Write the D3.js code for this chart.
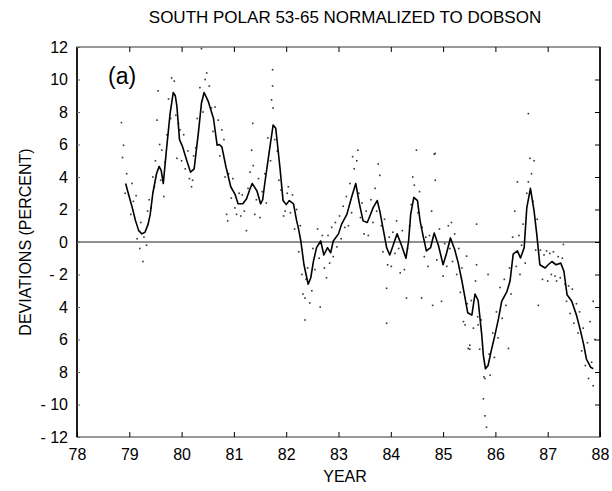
<!DOCTYPE html>
<html>
<head>
<meta charset="utf-8">
<script src="https://cdn.jsdelivr.net/npm/d3@7"></script>
<style>
  html, body { margin: 0; padding: 0; background: #fff; }
  svg { display: block; font-family: "Liberation Sans", Arial, Helvetica, sans-serif; }
</style>
</head>
<body>
<svg id="chart" width="612" height="491"></svg>
<script>
// ---------------- DATA ----------------
const titleText = "SOUTH POLAR 53-65 NORMALIZED TO DOBSON";
const xLabelText = "YEAR";
const yLabelText = "DEVIATIONS (PERCENT)";
const panelText = "(a)";

const xTicks = [78, 79, 80, 81, 82, 83, 84, 85, 86, 87, 88];
const yTicks = [12, 10, 8, 6, 4, 2, 0, -2, -4, -6, -8, -10, -12];
const yTickLabels = ["12", "10", "8", "6", "4", "2", "0", "- 2", "4", "6", "8", "- 10", "- 12"];

// smoothed curve: [year, deviation %]
const smoothLine = [
  [78.93,3.6],[78.98,3.0],[79.05,2.2],[79.12,1.3],[79.18,0.7],[79.24,0.5],[79.30,0.6],[79.36,1.1],
  [79.40,1.7],[79.45,3.0],[79.52,4.2],[79.57,4.65],[79.61,4.4],[79.65,3.6],[79.71,5.65],[79.78,7.9],
  [79.84,9.2],[79.88,9.0],[79.91,8.35],[79.96,6.3],[80.02,5.85],[80.10,5.0],[80.17,4.3],[80.24,4.5],
  [80.32,6.7],[80.38,8.55],[80.43,9.2],[80.51,8.65],[80.61,7.6],[80.68,5.95],[80.72,6.0],[80.77,5.85],
  [80.85,4.6],[80.94,3.4],[81.02,2.95],[81.08,2.35],[81.17,2.35],[81.24,2.65],[81.30,3.2],[81.35,3.6],
  [81.44,3.15],[81.51,2.35],[81.55,2.6],[81.59,3.6],[81.68,5.65],[81.75,7.2],[81.80,7.0],[81.88,4.6],
  [81.94,2.55],[82.00,2.3],[82.06,2.55],[82.14,2.35],[82.20,1.3],[82.23,0.9],[82.28,0.06],[82.34,-1.4],
  [82.42,-2.6],[82.47,-2.2],[82.52,-1.2],[82.58,-0.35],[82.66,0.06],[82.72,-0.8],[82.79,-0.35],[82.85,-0.66],
  [82.90,0.06],[83.00,0.5],[83.06,1.1],[83.16,1.7],[83.25,2.75],[83.33,3.6],[83.40,2.35],[83.47,1.3],
  [83.55,1.2],[83.60,1.6],[83.66,2.1],[83.74,2.55],[83.79,1.9],[83.86,0.7],[83.92,-0.35],[83.98,-0.8],
  [84.05,-0.15],[84.12,0.5],[84.21,-0.25],[84.29,-1.0],[84.34,0.06],[84.38,1.7],[84.44,2.75],[84.51,2.55],
  [84.56,1.3],[84.61,0.5],[84.68,-0.55],[84.76,-0.35],[84.83,0.55],[84.91,-0.2],[85.00,-1.4],[85.07,-0.65],
  [85.14,0.25],[85.22,-0.45],[85.29,-1.3],[85.36,-2.4],[85.42,-3.45],[85.47,-4.35],[85.55,-4.5],[85.61,-3.2],
  [85.67,-3.6],[85.74,-5.75],[85.77,-7.0],[85.81,-7.8],[85.86,-7.6],[85.93,-6.55],[85.99,-5.75],[86.06,-4.7],
  [86.12,-3.65],[86.22,-3.05],[86.28,-2.4],[86.34,-0.75],[86.42,-0.55],[86.48,-0.98],[86.55,-0.35],[86.60,2.1],
  [86.67,3.3],[86.74,1.9],[86.79,0.5],[86.85,-1.4],[86.95,-1.6],[87.01,-1.4],[87.08,-1.2],[87.16,-1.4],
  [87.25,-1.3],[87.31,-1.8],[87.37,-3.25],[87.46,-3.65],[87.55,-4.5],[87.63,-5.5],[87.69,-6.35],[87.74,-7.2],
  [87.82,-7.7],[87.87,-7.8]
];

// individual daily deviations: [year, deviation %]
const dailyPoints = [
  [78.85,7.35],[78.87,5.2],[78.89,5.95],[78.92,3.0],[78.95,4.2],[79.03,1.7],[79.05,3.6],[79.08,2.5],
  [79.13,2.85],[79.15,0.2],[79.20,-0.4],[79.22,1.2],[79.26,-1.2],[79.28,0.3],[79.33,-0.2],[79.35,1.9],
  [79.38,2.6],[79.42,2.1],[79.45,4.0],[79.48,3.4],[79.50,5.0],[79.53,7.5],[79.55,9.3],[79.58,6.0],
  [79.60,3.8],[79.62,5.65],[79.66,2.8],[79.68,4.9],[79.72,6.6],[79.75,8.8],[79.79,7.6],[79.81,10.1],
  [79.86,9.9],[79.89,7.8],[79.91,5.15],[79.94,7.3],[79.97,6.9],[80.00,5.0],[80.04,6.6],[80.07,4.5],
  [80.12,5.6],[80.15,3.9],[80.19,3.4],[80.21,3.8],[80.23,5.3],[80.27,5.8],[80.30,7.6],[80.35,9.5],
  [80.38,11.9],[80.41,8.0],[80.45,10.0],[80.48,10.4],[80.53,9.6],[80.57,8.25],[80.60,6.8],[80.64,8.3],
  [80.70,7.5],[80.73,5.3],[80.77,6.9],[80.81,6.3],[80.83,4.0],[80.86,1.7],[80.88,1.3],[80.90,4.2],
  [80.95,2.7],[80.98,3.9],[81.02,2.1],[81.05,1.7],[81.10,3.0],[81.13,1.6],[81.16,2.9],[81.20,1.9],
  [81.24,0.7],[81.27,3.3],[81.31,4.3],[81.34,5.65],[81.36,7.3],[81.37,4.7],[81.40,1.7],[81.43,2.6],
  [81.47,3.9],[81.50,1.5],[81.54,3.1],[81.59,4.2],[81.62,2.4],[81.65,6.4],[81.70,5.0],[81.72,8.75],
  [81.74,10.6],[81.74,9.6],[81.75,8.25],[81.78,6.3],[81.83,5.6],[81.86,3.8],[81.90,3.2],[81.95,1.6],
  [81.98,1.9],[82.02,3.0],[82.04,3.4],[82.08,1.8],[82.12,2.9],[82.16,0.8],[82.20,2.0],[82.24,-0.6],
  [82.27,1.0],[82.30,-2.0],[82.32,-3.2],[82.36,-3.45],[82.36,-4.8],[82.38,-2.3],[82.41,-1.6],[82.45,-3.75],
  [82.49,-3.0],[82.51,-0.4],[82.55,-1.7],[82.60,0.8],[82.63,-1.0],[82.65,-4.0],[82.69,0.4],[82.73,-1.6],
  [82.77,-2.2],[82.80,0.4],[82.83,-1.3],[82.87,0.9],[82.90,-0.9],[82.94,1.2],[82.97,-0.3],[83.02,1.6],
  [83.05,0.2],[83.09,2.2],[83.12,0.9],[83.15,2.8],[83.19,1.0],[83.22,3.6],[83.25,1.8],[83.27,5.25],
  [83.30,4.5],[83.35,5.0],[83.37,5.65],[83.39,3.0],[83.42,1.5],[83.45,2.4],[83.49,0.5],[83.53,1.9],
  [83.57,0.4],[83.62,2.6],[83.66,1.2],[83.70,3.3],[83.73,1.9],[83.76,4.8],[83.79,4.1],[83.82,1.0],
  [83.85,-0.6],[83.88,1.4],[83.92,-2.85],[83.92,-5.0],[83.94,-1.4],[83.97,0.3],[84.01,-1.5],[84.04,0.6],
  [84.08,-0.7],[84.11,1.3],[84.15,-0.4],[84.18,-1.9],[84.22,0.7],[84.26,-1.7],[84.30,-3.45],[84.32,-0.4],
  [84.36,1.0],[84.39,2.3],[84.42,4.0],[84.45,3.5],[84.49,5.65],[84.52,1.8],[84.55,3.1],[84.59,-3.45],
  [84.60,0.9],[84.64,-0.9],[84.67,0.3],[84.71,-1.5],[84.74,0.4],[84.78,1.9],[84.80,-3.9],[84.83,5.4],
  [84.85,5.45],[84.85,3.8],[84.88,-1.1],[84.93,0.8],[84.97,-3.65],[85.00,-2.1],[85.03,-0.1],[85.07,-1.5],
  [85.10,1.0],[85.13,-0.4],[85.16,1.2],[85.18,-1.2],[85.22,0.5],[85.26,-2.0],[85.30,-0.4],[85.33,-3.1],
  [85.36,-1.6],[85.39,-4.9],[85.42,-5.1],[85.45,-0.87],[85.46,-3.8],[85.48,-6.55],[85.51,-6.35],[85.51,-6.6],
  [85.54,-3.6],[85.58,-5.3],[85.62,-2.4],[85.64,1.1],[85.64,-1.4],[85.66,-4.6],[85.67,-5.1],[85.70,-6.6],
  [85.73,-4.8],[85.77,-9.65],[85.78,-8.3],[85.80,-8.4],[85.80,-10.7],[85.83,-11.4],[85.86,-2.0],[85.88,-6.9],
  [85.90,-8.2],[85.95,-5.6],[85.98,-7.1],[86.02,-4.3],[86.05,-5.9],[86.09,-2.8],[86.13,-4.7],[86.17,-2.3],
  [86.20,-3.9],[86.25,-6.55],[86.27,-1.6],[86.30,-3.2],[86.33,0.3],[86.37,1.9],[86.40,-1.5],[86.42,3.7],
  [86.45,0.4],[86.47,-2.0],[86.50,-0.2],[86.53,1.1],[86.57,-1.3],[86.60,3.0],[86.63,3.7],[86.63,7.9],
  [86.66,5.15],[86.69,4.2],[86.72,2.5],[86.74,5.0],[86.77,-0.5],[86.80,1.4],[86.82,-3.9],[86.86,-0.5],
  [86.90,-2.3],[86.93,-0.8],[86.98,-0.55],[87.00,-2.4],[87.04,-0.7],[87.07,-2.0],[87.11,-0.6],[87.14,-2.1],
  [87.17,-2.4],[87.20,-0.9],[87.24,-2.2],[87.28,-1.0],[87.30,-0.15],[87.33,-2.6],[87.36,-3.65],[87.40,-2.7],
  [87.43,-4.4],[87.47,-2.9],[87.50,-5.0],[87.55,-3.8],[87.58,-5.6],[87.61,-4.3],[87.65,-6.7],[87.68,-5.3],
  [87.72,-7.6],[87.76,-6.2],[87.78,-8.4],[87.81,-4.9],[87.84,-7.4],[87.87,-3.65],[87.87,-8.85],[87.90,-6.0]
];

// ---------------- DRAWING ----------------
const svg = d3.select("#chart");
const margin = { left: 77, right: 12, top: 47, bottom: 54 };
const W = 612, H = 491;
const plotW = W - margin.left - margin.right;
const plotH = H - margin.top - margin.bottom;

const x = d3.scaleLinear().domain([78, 88]).range([margin.left, margin.left + plotW]);
const y = d3.scaleLinear().domain([-12, 12]).range([margin.top + plotH, margin.top]);

// title
svg.append("text")
  .attr("x", 345).attr("y", 23)
  .attr("text-anchor", "middle")
  .attr("font-size", 17)
  .text(titleText);

// zero line
svg.append("line")
  .attr("x1", x(78)).attr("x2", x(88))
  .attr("y1", y(0)).attr("y2", y(0))
  .attr("stroke", "#222").attr("stroke-width", 1);

// scatter points
svg.append("g").selectAll("rect")
  .data(dailyPoints)
  .join("rect")
  .attr("x", d => x(d[0]) - 0.8)
  .attr("y", d => y(d[1]) - 0.8)
  .attr("width", 1.6).attr("height", 1.6)
  .attr("fill", "#333");

// smoothed line
svg.append("path")
  .datum(smoothLine)
  .attr("fill", "none")
  .attr("stroke", "#000")
  .attr("stroke-width", 1.6)
  .attr("stroke-linejoin", "round")
  .attr("d", d3.line().x(d => x(d[0])).y(d => y(d[1])));

// frame
svg.append("rect")
  .attr("x", x(78)).attr("y", y(12))
  .attr("width", x(88) - x(78)).attr("height", y(-12) - y(12))
  .attr("fill", "none").attr("stroke", "#333").attr("stroke-width", 1);
svg.append("line")
  .attr("x1", x(78)).attr("x2", x(78)).attr("y1", y(12)).attr("y2", y(-12))
  .attr("stroke", "#000").attr("stroke-width", 1.6);
svg.append("line")
  .attr("x1", x(88)).attr("x2", x(88)).attr("y1", y(12)).attr("y2", y(-12))
  .attr("stroke", "#000").attr("stroke-width", 1.6);

// bottom axis (ticks inward)
const xAxisB = svg.append("g")
  .attr("transform", `translate(0,${y(-12)})`)
  .call(d3.axisBottom(x).tickValues(xTicks).tickSize(-5).tickPadding(12).tickFormat(d3.format("d")));
xAxisB.select(".domain").remove();
xAxisB.selectAll("text").attr("font-size", 16).attr("font-family", "Liberation Sans, Arial, sans-serif").attr("fill", "#000");
xAxisB.selectAll("line").attr("stroke", "#000");

// top axis ticks
const xAxisT = svg.append("g")
  .attr("transform", `translate(0,${y(12)})`)
  .call(d3.axisTop(x).tickValues(xTicks.slice(1, -1)).tickSize(-5).tickFormat(""));
xAxisT.select(".domain").remove();
xAxisT.selectAll("line").attr("stroke", "#000");

// left axis
const yAxisL = svg.append("g")
  .attr("transform", `translate(${x(78)},0)`)
  .call(d3.axisLeft(y).tickValues(yTicks).tickSize(-3).tickPadding(9)
    .tickFormat((d, i) => yTickLabels[i]));
yAxisL.select(".domain").remove();
yAxisL.selectAll("text").attr("font-size", 16).attr("font-family", "Liberation Sans, Arial, sans-serif").attr("fill", "#000");
yAxisL.selectAll("line").attr("stroke", "#666");

// right axis ticks
const yAxisR = svg.append("g")
  .attr("transform", `translate(${x(88)},0)`)
  .call(d3.axisRight(y).tickValues(yTicks.slice(1, -1)).tickSize(-5).tickFormat(""));
yAxisR.select(".domain").remove();
yAxisR.selectAll("line").attr("stroke", "#000");

// axis titles
svg.append("text")
  .attr("x", 345).attr("y", 482)
  .attr("text-anchor", "middle")
  .attr("font-size", 16)
  .text(xLabelText);

svg.append("text")
  .attr("transform", `translate(31,${y(0)}) rotate(-90)`)
  .attr("text-anchor", "middle")
  .attr("font-size", 16)
  .text(yLabelText);

// panel label
svg.append("text")
  .attr("x", 108).attr("y", 84)
  .attr("font-size", 23)
  .text(panelText);
</script>
</body>
</html>
